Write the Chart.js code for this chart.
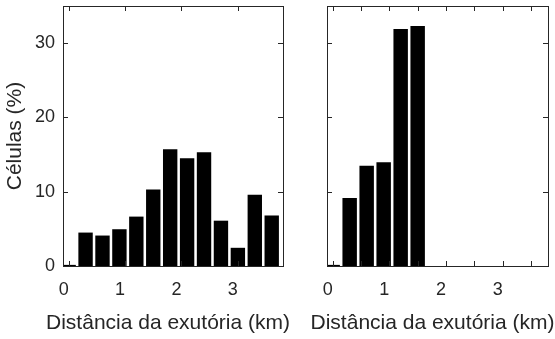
<!DOCTYPE html>
<html>
<head>
<meta charset="utf-8">
<script src="https://cdn.jsdelivr.net/npm/chart.js@4.4.1/dist/chart.umd.min.js"></script>
<style>
  html, body { margin: 0; padding: 0; background: #fff; }
  #wrap { position: relative; width: 555px; height: 339px; }
  canvas { position: absolute; top: 0; }
  #left { left: 0; }
  #right { left: 290px; }
</style>
</head>
<body>
<div id="wrap">
  <canvas id="left" width="300" height="339"></canvas>
  <canvas id="right" width="265" height="339"></canvas>
</div>
<script>
// distance bins (km, bin centres) and share of cells in each bin (%)
const binCenters = [0, 0.3, 0.6, 0.9, 1.2, 1.5, 1.8, 2.1, 2.4, 2.7, 3.0, 3.3, 3.6];
const cellsLeft = [0.15, 4.5, 4.1, 4.95, 6.65, 10.3, 15.7, 14.5, 15.3, 6.1, 2.45, 9.6, 6.8];
const cellsRight = [0.15, 9.15, 13.5, 13.95, 31.9, 32.3, 0, 0, 0, 0, 0, 0, 0];

const yTicks = [0, 10, 20, 30];
const xTicksLeft = [0, 1, 2, 3];
const xTicksRight = [0, 0.5, 1, 1.5, 2, 2.5, 3, 3.5];

const xTitle = "Distância da exutória (km)";
const yTitle = "Células (%)";

const INK = "#262626";
const FONT = "'Liberation Sans', Arial, sans-serif";
const TICK_LEN = 5;

// box around the plot area with inward tick marks on all four sides,
// plus the x label (drawn here so it may run wider than the plot area)
const frameTicks = {
    id: "frameTicks",
    afterDatasetsDraw(chart, args, opts) {
        let ctx = chart.ctx;
        let a = chart.chartArea;
        let sx = chart.scales.x;
        let sy = chart.scales.y;
        ctx.save();
        ctx.strokeStyle = INK;
        ctx.lineWidth = 1;
        ctx.beginPath();
        sx.ticks.forEach(function(t) {
            let px = Math.round(sx.getPixelForValue(t.value)) + 0.5;
            ctx.moveTo(px, a.top);
            ctx.lineTo(px, a.top + TICK_LEN);
            ctx.moveTo(px, a.bottom);
            ctx.lineTo(px, a.bottom - TICK_LEN);
        });
        sy.ticks.forEach(function(t) {
            let py = Math.round(sy.getPixelForValue(t.value)) + 0.5;
            ctx.moveTo(a.left, py);
            ctx.lineTo(a.left + TICK_LEN, py);
            ctx.moveTo(a.right, py);
            ctx.lineTo(a.right - TICK_LEN, py);
        });
        ctx.stroke();
        ctx.strokeRect(Math.round(a.left) + 0.5, Math.round(a.top) + 0.5,
            Math.round(a.right - a.left), Math.round(a.bottom - a.top));

        if (opts.title) {
            ctx.fillStyle = INK;
            ctx.font = opts.size + "px " + FONT;
            ctx.textAlign = "center";
            ctx.textBaseline = "middle";
            ctx.fillText(opts.title, (a.left + a.right) / 2 + opts.shift, a.bottom + opts.gap);
        }
        ctx.restore();
    }
};

function makePanel(canvasId, values, xTicks, showY, yWidth, padRight) {
    let ctx = document.getElementById(canvasId).getContext("2d");
    let points = [];
    for (let i = 0; i < binCenters.length; i++) {
        points.push({x: binCenters[i], y: values[i]});
    }
    return new Chart(ctx, {
        type: "bar",
        data: {
            datasets: [{
                data: points,
                backgroundColor: "#000",
                borderWidth: 0,
                barPercentage: 0.85,
                categoryPercentage: 1.0
            }]
        },
        options: {
            responsive: false,
            animation: false,
            layout: {padding: {left: 0, right: padRight, top: 6, bottom: 0}},
            plugins: {
                legend: {display: false},
                tooltip: {enabled: false},
                frameTicks: {title: xTitle, size: 21, shift: -5, gap: 57}
            },
            scales: {
                x: {
                    type: "linear",
                    min: -0.1,
                    max: 3.8,
                    offset: false,
                    grid: {display: false, drawTicks: false},
                    border: {display: false},
                    afterBuildTicks: function(scale) {
                        scale.ticks = xTicks.map(v => ({value: v}));
                    },
                    afterFit: function(scale) {
                        scale.height = 73;
                        scale.paddingLeft = 0;
                        scale.paddingRight = 0;
                    },
                    ticks: {
                        autoSkip: false,
                        maxRotation: 0,
                        padding: 13,
                        labelOffset: -5,
                        color: INK,
                        font: {family: FONT, size: 18},
                        callback: v => Number.isInteger(v) ? String(v) : ""
                    }
                },
                y: {
                    min: 0,
                    max: 35,
                    grid: {display: false, drawTicks: false},
                    border: {display: false},
                    afterBuildTicks: function(scale) {
                        scale.ticks = yTicks.map(v => ({value: v}));
                    },
                    afterFit: function(scale) {
                        scale.width = yWidth;
                        scale.paddingTop = 0;
                        scale.paddingBottom = 0;
                    },
                    ticks: {
                        display: showY,
                        padding: 8,
                        color: INK,
                        font: {family: FONT, size: 18}
                    },
                    title: {
                        display: showY,
                        text: yTitle,
                        color: INK,
                        font: {family: FONT, size: 21},
                        padding: {top: 3, bottom: 0}
                    }
                }
            }
        },
        plugins: [frameTicks]
    });
}

makePanel("left", cellsLeft, xTicksLeft, true, 63, 17);
makePanel("right", cellsRight, xTicksRight, false, 37, 7);
</script>
</body>
</html>
